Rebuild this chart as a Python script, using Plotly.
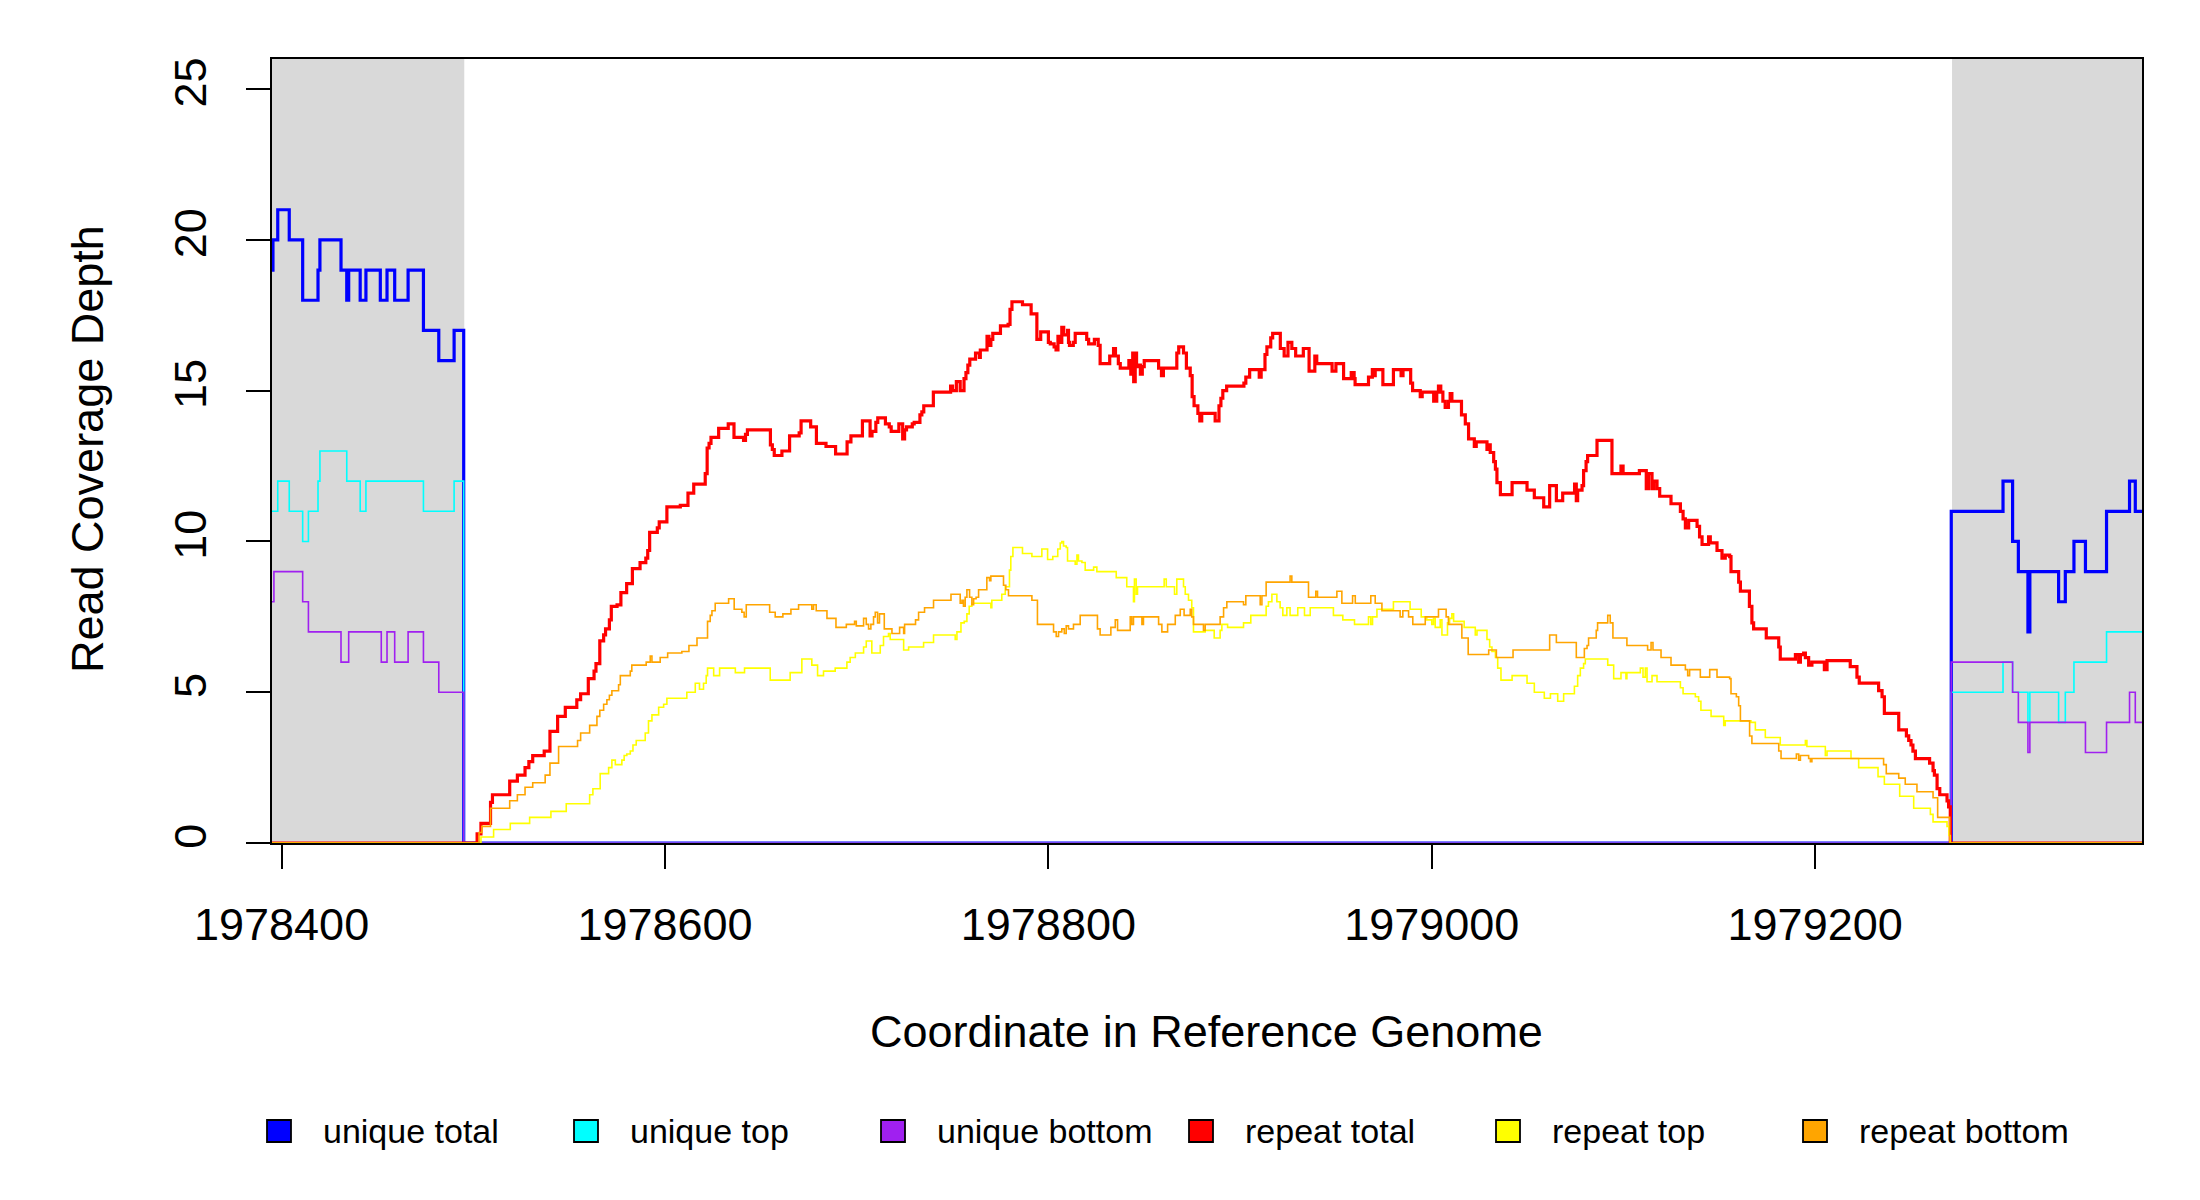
import plotly.graph_objects as go

# ---------------- data ----------------
# step-function breakpoints: (genome coordinate where the depth starts, depth)
UNIQUE_TOTAL = [
    (1978395, 19), (1978395.5, 20), (1978398, 21), (1978404, 20), (1978411, 18),
    (1978419, 19), (1978420, 20), (1978431, 19), (1978434, 18), (1978435, 19),
    (1978441, 18), (1978444, 19), (1978451.5, 18), (1978455, 19), (1978459, 18),
    (1978466, 19), (1978474, 17), (1978482, 16), (1978490, 17), (1978495, 0),
    (1979271, 11), (1979298, 12), (1979303, 10), (1979306, 9), (1979311, 7),
    (1979312, 9), (1979327, 8), (1979330.5, 9), (1979335, 10), (1979341, 9),
    (1979352, 11), (1979364, 12), (1979367, 11), (1979370.5, 11),
]
UNIQUE_TOP = [
    (1978395, 11), (1978398, 12), (1978404, 11), (1978411, 10), (1978414, 11),
    (1978419, 12), (1978420, 13), (1978434, 12), (1978441, 11), (1978444, 12),
    (1978474, 11), (1978490, 12), (1978495, 0),
    (1979271, 5), (1979298, 6), (1979303, 5), (1979311, 4), (1979312, 5),
    (1979327, 4), (1979330.5, 5), (1979335, 6), (1979352, 7), (1979370.5, 7),
]
UNIQUE_BOTTOM = [
    (1978395, 8), (1978396, 9), (1978411, 8), (1978414, 7), (1978431, 6),
    (1978435, 7), (1978452, 6), (1978455, 7), (1978459, 6), (1978466, 7),
    (1978474, 6), (1978482, 5), (1978495, 0),
    (1979271, 6), (1979303, 5), (1979306, 4), (1979311, 3), (1979312, 4),
    (1979341, 3), (1979352, 4), (1979364, 5), (1979367, 4), (1979370.5, 4),
]
REPEAT_TOTAL = [
    (1978395, 0), (1978502, 0.3), (1978504, 0.65), (1978509, 1.35), (1978510, 1.6),
    (1978519, 2.05), (1978523, 2.25), (1978527, 2.5), (1978529, 2.7), (1978531, 2.9),
    (1978537, 3.05), (1978540, 3.7), (1978544, 4.2), (1978548, 4.5), (1978554, 4.75),
    (1978556, 4.95), (1978560, 5.45), (1978563, 5.7), (1978564, 5.95), (1978566, 6.7),
    (1978568, 6.9), (1978569, 7.1), (1978571, 7.4), (1978572, 7.85), (1978575, 7.9),
    (1978577, 8.3), (1978580, 8.6), (1978583, 9.1), (1978587, 9.3), (1978590, 9.45),
    (1978591, 9.7), (1978592, 10.3), (1978596, 10.45), (1978597, 10.65), (1978601, 11.15),
    (1978608, 11.2), (1978612, 11.6), (1978615, 11.9), (1978621, 12.25), (1978622, 13.1),
    (1978623, 13.25), (1978624, 13.45), (1978628, 13.75), (1978633, 13.9), (1978636, 13.45),
    (1978641, 13.35), (1978642, 13.55), (1978643, 13.7), (1978655, 13.2), (1978656, 13.05),
    (1978657, 12.85), (1978661, 13.0), (1978665, 13.5), (1978670, 13.6), (1978671, 14.0),
    (1978676, 13.8), (1978679, 13.25), (1978684, 13.15), (1978689, 12.9), (1978695, 13.3),
    (1978697, 13.5), (1978703, 14.0), (1978707, 13.5), (1978708, 13.65), (1978710, 13.95),
    (1978711, 14.1), (1978715, 13.9), (1978717, 13.8), (1978718, 13.65), (1978722, 13.9),
    (1978724, 13.4), (1978725, 13.7), (1978726, 13.8), (1978729, 13.9), (1978730, 13.95),
    (1978733, 14.2), (1978734, 14.3), (1978735, 14.5), (1978740, 14.95), (1978749, 15.15),
    (1978750, 15.0), (1978752, 15.3), (1978754, 15.0), (1978756, 15.4), (1978757, 15.6),
    (1978758, 15.85), (1978759, 16.05), (1978762, 16.25), (1978764, 16.1), (1978764.5, 16.35),
    (1978768, 16.8), (1978769, 16.5), (1978770, 16.7), (1978771, 16.9), (1978775, 17.15),
    (1978779, 17.2), (1978780, 17.7), (1978781, 17.95), (1978786.5, 17.85), (1978791, 17.55),
    (1978794, 16.7), (1978796, 16.95), (1978800, 16.6), (1978801, 16.55), (1978803, 16.45),
    (1978804, 16.35), (1978805, 16.8), (1978806, 16.6), (1978807, 17.1), (1978808, 16.85),
    (1978810, 17.0), (1978810.5, 16.6), (1978811, 16.5), (1978813, 16.6), (1978814, 16.9),
    (1978820, 16.7), (1978821, 16.55), (1978824, 16.7), (1978826, 16.5), (1978827, 15.9),
    (1978832, 16.15), (1978834, 16.4), (1978835, 16.15), (1978836.5, 15.9), (1978837.5, 15.75),
    (1978842, 16.0), (1978843, 15.55), (1978844, 16.25), (1978844.5, 15.3), (1978845.3, 16.25),
    (1978846, 15.8), (1978847, 15.85), (1978848, 15.55), (1978849, 15.8), (1978850, 16.0),
    (1978857.5, 15.75), (1978859, 15.5), (1978860, 15.75), (1978867, 16.25), (1978868, 16.45),
    (1978870.5, 16.25), (1978872, 15.75), (1978874, 15.5), (1978875, 14.8), (1978876, 14.5),
    (1978878, 14.25), (1978879, 14.0), (1978880, 14.25), (1978887, 14.0), (1978889, 14.5),
    (1978890, 14.75), (1978891, 15.0), (1978893, 15.15), (1978902, 15.25), (1978903, 15.45),
    (1978905, 15.7), (1978910, 15.45), (1978911, 15.7), (1978913, 16.2), (1978914, 16.45),
    (1978916, 16.75), (1978917, 16.9), (1978921, 16.4), (1978923, 16.15), (1978925, 16.6),
    (1978927, 16.4), (1978929, 16.15), (1978933, 16.4), (1978936, 15.65), (1978939, 16.15),
    (1978940, 15.9), (1978948, 15.65), (1978950, 15.9), (1978954, 15.4), (1978958, 15.6),
    (1978959.5, 15.4), (1978960, 15.2), (1978967, 15.45), (1978969, 15.7), (1978970, 15.5),
    (1978970.5, 15.7), (1978974.5, 15.2), (1978980, 15.7), (1978984, 15.5), (1978985, 15.7),
    (1978989, 15.25), (1978990, 15.0), (1978994, 14.8), (1978995, 14.95), (1979001, 14.65),
    (1979002.6, 14.95), (1979003.5, 15.15), (1979004.7, 14.95), (1979005.8, 14.65), (1979007, 14.45),
    (1979008.7, 14.65), (1979009.6, 14.9), (1979010.5, 14.65), (1979015.5, 14.2), (1979017.5, 13.9),
    (1979019.2, 13.4), (1979022.2, 13.15), (1979023.2, 13.3), (1979028.8, 13.05), (1979029.7, 13.2),
    (1979030.5, 12.95), (1979032.3, 12.65), (1979033.2, 12.4), (1979034, 11.95), (1979035.8, 11.55),
    (1979041.9, 11.95), (1979049.7, 11.7), (1979053.5, 11.45), (1979058.4, 11.15), (1979061.5, 11.85),
    (1979065, 11.35), (1979068.3, 11.6), (1979074.5, 11.9), (1979075.4, 11.35), (1979076.1, 11.7),
    (1979078.4, 11.85), (1979079.2, 12.35), (1979080.5, 12.65), (1979081.3, 12.85), (1979086.2, 13.35),
    (1979094, 12.25), (1979098.7, 12.5), (1979099.8, 12.25), (1979108.3, 12.35), (1979111.9, 11.75),
    (1979113.1, 12.25), (1979114.9, 11.75), (1979115.8, 12.0), (1979117.5, 11.75), (1979118.9, 11.5),
    (1979124.8, 11.25), (1979129.7, 11.0), (1979131.1, 10.75), (1979132.3, 10.45), (1979134, 10.7),
    (1979138.4, 10.5), (1979139.7, 10.15), (1979141, 9.9), (1979144.4, 10.15), (1979145.3, 9.95),
    (1979148.8, 9.7), (1979151.4, 9.45), (1979153.1, 9.55), (1979155.4, 9.5), (1979156.1, 9.0),
    (1979160.1, 8.65), (1979161, 8.35), (1979165.7, 7.85), (1979167, 7.3), (1979167.9, 7.1),
    (1979174.5, 6.8), (1979181, 6.5), (1979181.8, 6.1), (1979189.7, 6.25), (1979191.4, 6.0),
    (1979192.3, 6.25), (1979194, 6.3), (1979194.9, 6.15), (1979196.6, 5.9), (1979198.3, 6.0),
    (1979204.8, 5.75), (1979206.2, 6.05), (1979218.3, 5.85), (1979221.8, 5.5), (1979223, 5.3),
    (1979233.1, 5.05), (1979234.9, 4.85), (1979236.1, 4.3), (1979243.6, 3.75), (1979247.6, 3.55),
    (1979248.8, 3.4), (1979250, 3.25), (1979251, 3.05), (1979252.3, 2.8), (1979259.7, 2.65),
    (1979261.5, 2.4), (1979262.2, 2.25), (1979263.6, 1.8), (1979265, 1.6), (1979268.8, 1.4),
    (1979269.6, 1.2), (1979270.5, 0), (1979370.5, 0),
]
REPEAT_TOP = [
    (1978395, 0), (1978504, 0.2), (1978510.6, 0.45), (1978519.3, 0.65), (1978529.4, 0.85),
    (1978540.5, 1.05), (1978548.5, 1.3), (1978560.7, 1.6), (1978562.4, 1.8), (1978566.2, 2.3),
    (1978570.6, 2.5), (1978572.3, 2.75), (1978574.1, 2.6), (1978577.5, 2.75), (1978578.7, 2.9),
    (1978580.1, 2.95), (1978581.9, 3.05), (1978583.3, 3.25), (1978585, 3.4), (1978589.7, 3.65),
    (1978591.4, 4.05), (1978593.2, 4.25), (1978596.7, 4.5), (1978599.3, 4.6), (1978601, 4.8),
    (1978611.4, 5.0), (1978615.8, 5.3), (1978618, 5.1), (1978620.1, 5.3), (1978621.5, 5.55),
    (1978622.2, 5.8), (1978625.4, 5.55), (1978628.5, 5.8), (1978636.7, 5.65), (1978641.5, 5.8),
    (1978654.9, 5.4), (1978665.3, 5.65), (1978671.4, 6.1), (1978676.6, 5.9), (1978679.6, 5.55),
    (1978682.7, 5.7), (1978688.8, 5.8), (1978694.9, 6.0), (1978696.6, 6.15), (1978699.3, 6.3),
    (1978703.6, 6.5), (1978705, 6.7), (1978707.9, 6.3), (1978712.3, 6.55), (1978714, 6.85),
    (1978716.6, 6.95), (1978717.5, 6.75), (1978724.5, 6.4), (1978727.1, 6.5), (1978734.9, 6.65),
    (1978740.1, 6.9), (1978751.4, 6.75), (1978752.3, 7.0), (1978754.4, 7.3), (1978756.1, 7.35),
    (1978757.5, 7.6), (1978758.7, 7.85), (1978760.1, 7.95), (1978770, 7.8), (1978770.5, 8.05),
    (1978775.7, 8.25), (1978777.5, 8.5), (1978779.7, 9.05), (1978780.4, 9.5), (1978781.5, 9.8),
    (1978786.5, 9.6), (1978791.4, 9.5), (1978796.6, 9.75), (1978799.6, 9.4), (1978802.3, 9.5),
    (1978804.9, 9.75), (1978806.2, 9.95), (1978807, 10.0), (1978807.9, 9.85), (1978809.3, 9.8),
    (1978810, 9.35), (1978814, 9.25), (1978814.9, 9.55), (1978815.7, 9.35), (1978817.5, 9.3),
    (1978819.2, 9.05), (1978823.6, 9.15), (1978825.3, 9.0), (1978835.4, 8.8), (1978840.9, 8.5),
    (1978844.4, 8.0), (1978844.9, 8.75), (1978845.8, 8.25), (1978846.5, 8.5), (1978860.4, 8.75),
    (1978861.5, 8.5), (1978865.8, 8.25), (1978867, 8.75), (1978870.5, 8.5), (1978871.4, 8.25),
    (1978873.1, 8.05), (1978874.8, 7.8), (1978875.7, 7.0), (1978881.8, 7.05), (1978886.5, 6.8),
    (1978889.6, 7.05), (1978890.5, 7.25), (1978893.5, 7.15), (1978901.8, 7.3), (1978905.6, 7.55),
    (1978913.6, 7.85), (1978914.8, 8.0), (1978916.6, 8.25), (1978919.2, 8.0), (1978920.9, 7.8),
    (1978922.3, 7.55), (1978924.4, 7.8), (1978926.1, 7.55), (1978930.1, 7.8), (1978933.6, 7.55),
    (1978936.6, 7.8), (1978948.7, 7.55), (1978953.6, 7.4), (1978959.7, 7.25), (1978967, 7.5),
    (1978968.2, 7.25), (1978969.1, 7.5), (1978971.4, 7.75), (1978980, 8.0), (1978988.7, 7.75),
    (1978994.5, 7.5), (1978997.4, 7.4), (1979000, 7.25), (1979000.9, 7.45), (1979001.8, 7.15),
    (1979004.4, 7.4), (1979005.3, 6.9), (1979008.2, 7.3), (1979009.3, 7.45), (1979010.5, 7.6),
    (1979011.4, 7.35), (1979016.9, 7.15), (1979022.7, 6.9), (1979023.6, 7.05), (1979028.8, 6.75),
    (1979030.2, 6.5), (1979031.4, 6.35), (1979033.2, 6.15), (1979034.4, 5.8), (1979036.1, 5.4),
    (1979041.9, 5.55), (1979049.7, 5.3), (1979053.5, 5.0), (1979058.7, 4.8), (1979061.9, 4.95),
    (1979065.7, 4.7), (1979068.8, 4.95), (1979074.4, 5.2), (1979076.1, 5.55), (1979077.5, 5.8),
    (1979079.2, 5.95), (1979080.1, 6.1), (1979091.8, 5.9), (1979094.9, 5.45), (1979098.7, 5.65),
    (1979101.3, 5.45), (1979101.8, 5.65), (1979108.8, 5.8), (1979110.2, 5.5), (1979111.4, 5.8),
    (1979112.3, 5.35), (1979114.9, 5.55), (1979117.5, 5.35), (1979129.7, 5.15), (1979131.1, 4.95),
    (1979137.5, 4.85), (1979139.2, 4.7), (1979140.4, 4.4), (1979145.7, 4.2), (1979152.3, 3.9),
    (1979153.1, 4.05), (1979166.5, 4.0), (1979168.8, 3.75), (1979174, 3.5), (1979181.8, 3.25),
    (1979194.9, 3.4), (1979195.7, 3.2), (1979205.3, 2.9), (1979206.2, 3.05), (1979218.7, 2.8),
    (1979222.7, 2.5), (1979232.8, 2.2), (1979236.1, 1.95), (1979244.1, 1.55), (1979251.4, 1.15),
    (1979260.1, 0.95), (1979261.5, 0.7), (1979268.8, 0.55), (1979269.8, 0.25), (1979270.5, 0),
    (1979370.5, 0),
]
REPEAT_BOTTOM = [
    (1978395, 0), (1978503, 0.35), (1978504.5, 0.55), (1978509, 1.15), (1978519, 1.4),
    (1978523, 1.6), (1978527, 1.85), (1978531, 2.0), (1978537.5, 2.25), (1978540, 2.65),
    (1978544.5, 3.2), (1978554.4, 3.4), (1978556, 3.65), (1978560.7, 3.9), (1978564.5, 4.2),
    (1978566, 4.4), (1978568, 4.6), (1978569.7, 4.75), (1978571, 4.9), (1978572.3, 5.05),
    (1978575.8, 5.25), (1978576.7, 5.55), (1978581.9, 5.7), (1978582.7, 5.9), (1978590.2, 6.0),
    (1978592.3, 6.2), (1978593.2, 6.0), (1978597.5, 6.15), (1978601.4, 6.3), (1978608.8, 6.35),
    (1978612.5, 6.55), (1978616.7, 6.8), (1978622.2, 7.35), (1978623.6, 7.55), (1978624.5, 7.7),
    (1978626.2, 7.95), (1978633.2, 8.1), (1978636.1, 7.75), (1978640.1, 7.65), (1978641.3, 7.5),
    (1978642.4, 7.9), (1978654.6, 7.65), (1978657.5, 7.5), (1978661.5, 7.6), (1978665.7, 7.75),
    (1978669.7, 7.9), (1978676.6, 7.75), (1978677.5, 7.9), (1978678.9, 7.7), (1978684.5, 7.45),
    (1978689.2, 7.15), (1978694.6, 7.25), (1978698.9, 7.35), (1978699.8, 7.2), (1978703.6, 7.45),
    (1978705, 7.25), (1978706.2, 7.1), (1978707.4, 7.25), (1978708.8, 7.5), (1978709.7, 7.65),
    (1978710.9, 7.3), (1978711.9, 7.6), (1978714.4, 7.1), (1978718.4, 6.95), (1978722.4, 7.15),
    (1978724.5, 6.95), (1978725, 7.25), (1978730.7, 7.4), (1978732.3, 7.65), (1978735.4, 7.8),
    (1978740.1, 8.05), (1978749.2, 8.25), (1978754, 7.95), (1978754.9, 8.05), (1978755.7, 7.85),
    (1978756.6, 8.15), (1978757.5, 8.4), (1978758.9, 8.15), (1978760.1, 7.9), (1978761, 8.1),
    (1978762.3, 8.15), (1978763.6, 8.4), (1978767.9, 8.8), (1978769.3, 8.7), (1978770, 8.85),
    (1978776.6, 8.55), (1978777.8, 8.4), (1978779.2, 8.2), (1978791.4, 8.05), (1978794.3, 7.25),
    (1978802.7, 7.0), (1978804.1, 6.85), (1978805.3, 7.0), (1978807, 7.1), (1978808.3, 6.95),
    (1978809.3, 7.2), (1978810.5, 7.1), (1978813.1, 7.25), (1978816.6, 7.55), (1978825.6, 7.1),
    (1978827, 6.9), (1978832.6, 7.15), (1978834.9, 7.4), (1978836.1, 7.05), (1978842.7, 7.5),
    (1978843.5, 7.25), (1978844.4, 7.5), (1978848.8, 7.25), (1978849.6, 7.5), (1978857.5, 7.25),
    (1978859.2, 7.0), (1978862.2, 7.25), (1978866.2, 7.55), (1978868.8, 7.75), (1978870.8, 7.55),
    (1978874, 7.75), (1978874.8, 7.5), (1978875.7, 7.25), (1978880.9, 7.05), (1978881.8, 7.25),
    (1978889.6, 7.5), (1978891.4, 7.8), (1978893.1, 8.0), (1978901.8, 7.9), (1978903, 8.2),
    (1978910.5, 7.9), (1978911.4, 8.2), (1978913.6, 8.65), (1978926.1, 8.85), (1978927, 8.65),
    (1978935.7, 8.15), (1978939.5, 8.35), (1978940.4, 8.15), (1978950.5, 8.35), (1978953.1, 7.95),
    (1978958.7, 8.2), (1978960.1, 7.95), (1978968.2, 8.2), (1978970.5, 7.95), (1978974, 7.7),
    (1978983.5, 7.5), (1978984.9, 7.7), (1978987.9, 7.5), (1978990.1, 7.25), (1978996.6, 7.5),
    (1979003.5, 7.75), (1979007.5, 7.5), (1979008.7, 7.25), (1979015.7, 6.8), (1979019, 6.25),
    (1979029.7, 6.4), (1979033.7, 6.15), (1979042.4, 6.4), (1979061.5, 6.9), (1979065, 6.65),
    (1979075.4, 6.15), (1979079.6, 6.45), (1979081, 6.55), (1979081.8, 6.8), (1979085.8, 7.05),
    (1979086.5, 7.3), (1979091.8, 7.55), (1979093.1, 7.3), (1979094.5, 6.8), (1979101.8, 6.55),
    (1979112.6, 6.4), (1979114.4, 6.65), (1979115.4, 6.4), (1979119.6, 6.15), (1979124.8, 5.9),
    (1979132.3, 5.75), (1979133.5, 5.55), (1979134.5, 5.75), (1979140.1, 5.5), (1979145, 5.75),
    (1979148.8, 5.5), (1979155.4, 5.45), (1979156.1, 4.95), (1979158.9, 4.85), (1979160.1, 4.55),
    (1979161, 4.05), (1979165.8, 3.55), (1979167, 3.3), (1979181, 3.05), (1979182.2, 2.8),
    (1979190.2, 2.95), (1979191.4, 2.75), (1979192.3, 2.9), (1979196.6, 2.8), (1979197.5, 2.7),
    (1979198.3, 2.8), (1979235.7, 2.6), (1979237.1, 2.3), (1979243.6, 2.15), (1979247, 1.95),
    (1979253.1, 1.7), (1979261.5, 1.5), (1979263.9, 0.85), (1979270.2, 0), (1979370.5, 0),
]

SERIES_NAMES = ["unique total", "unique top", "unique bottom",
                "repeat total", "repeat top", "repeat bottom"]
SERIES_COLORS = ["#0000FF", "#00FFFF", "#A020F0", "#FF0000", "#FFFF00", "#FFA500"]
SERIES_WIDTHS = [3.2, 1.6, 1.6, 3.2, 1.6, 1.6]
SERIES_DATA = [UNIQUE_TOTAL, UNIQUE_TOP, UNIQUE_BOTTOM,
               REPEAT_TOTAL, REPEAT_TOP, REPEAT_BOTTOM]

FLANKS = [(1978395, 1978495.3), (1979271.4, 1979370.5)]   # shaded unique flanks
X_RANGE = [1978395, 1979370.5]
Y_RANGE = [0, 26]
X_TICKS = [1978400, 1978600, 1978800, 1979000, 1979200]
X_TICK_LABELS = ["1978400", "1978600", "1978800", "1979000", "1979200"]
Y_TICKS = [0, 5, 10, 15, 20, 25]
Y_TICK_LABELS = ["0", "5", "10", "15", "20", "25"]

X_TITLE = "Coordinate in Reference Genome"
Y_TITLE = "Read Coverage Depth"

# ---------------- figure ----------------
FONT = "Liberation Sans, Arial, sans-serif"
PAGE_OFF = 8                      # default body margin of the html page
W, H = 2200 - 2 * PAGE_OFF, 1200 - 2 * PAGE_OFF
ML, MR, MT, MB = 264, 50, 51, 349
PW, PH = W - ML - MR, H - MT - MB


def page_x(p):
    return (p - PAGE_OFF - ML) / PW


def page_y(p):
    return (MT + PH - (p - PAGE_OFF)) / PH


fig = go.Figure()

for name, col, lw, data in zip(SERIES_NAMES, SERIES_COLORS, SERIES_WIDTHS, SERIES_DATA):
    xs = [p[0] for p in data]
    ys = [p[1] for p in data]
    fig.add_trace(go.Scatter(x=xs, y=ys, mode="lines", name=name,
                             line=dict(color=col, width=lw, shape="hv"),
                             showlegend=False, hoverinfo="skip"))

shapes = []
for x0, x1 in FLANKS:
    shapes.append(dict(type="rect", xref="x", yref="paper", x0=x0, x1=x1, y0=0, y1=1,
                       fillcolor="#D9D9D9", line=dict(width=0), layer="below"))

# manual legend (boxes + labels) below the plot
legend_box_px = [279, 586, 893, 1201, 1508, 1815]
legend_y_px = 1131
annotations = []
for i, (name, col) in enumerate(zip(SERIES_NAMES, SERIES_COLORS)):
    cx = page_x(legend_box_px[i])
    cy = page_y(legend_y_px)
    shapes.append(dict(type="rect", xref="paper", yref="paper",
                       xsizemode="pixel", ysizemode="pixel",
                       xanchor=cx, yanchor=cy, x0=-12, x1=12, y0=-11, y1=11,
                       fillcolor=col, line=dict(color="#000000", width=1.8)))
    annotations.append(dict(xref="paper", yref="paper",
                            x=page_x(legend_box_px[i] + 42), y=cy,
                            xanchor="left", yanchor="middle", showarrow=False,
                            text=name, font=dict(family=FONT, size=34, color="black")))

annotations.append(dict(xref="paper", yref="paper", x=page_x(1206),
                        y=page_y(1031), xanchor="center", yanchor="middle",
                        showarrow=False, text=X_TITLE,
                        font=dict(family=FONT, size=45, color="black")))
annotations.append(dict(xref="paper", yref="paper", x=page_x(87), y=page_y(449),
                        xanchor="center", yanchor="middle", textangle=-90,
                        showarrow=False, text=Y_TITLE,
                        font=dict(family=FONT, size=45, color="black")))

axis_common = dict(showline=True, linecolor="black", linewidth=1.8, mirror=True,
                   ticks="outside", ticklen=24, tickwidth=1.8, tickcolor="black",
                   showgrid=False, zeroline=False,
                   tickfont=dict(family=FONT, size=45, color="black"))

fig.update_layout(
    width=W, height=H, autosize=False,
    margin=dict(l=ML, r=MR, t=MT, b=MB, pad=0),
    paper_bgcolor="white", plot_bgcolor="white",
    showlegend=False,
    xaxis=dict(range=X_RANGE, tickvals=X_TICKS, ticktext=X_TICK_LABELS,
               ticklabelstandoff=17, **axis_common),
    yaxis=dict(range=Y_RANGE, tickvals=Y_TICKS, ticktext=Y_TICK_LABELS,
               tickangle=-90, ticklabelstandoff=22, **axis_common),
    shapes=shapes, annotations=annotations,
)

fig.write_html("out.html")
